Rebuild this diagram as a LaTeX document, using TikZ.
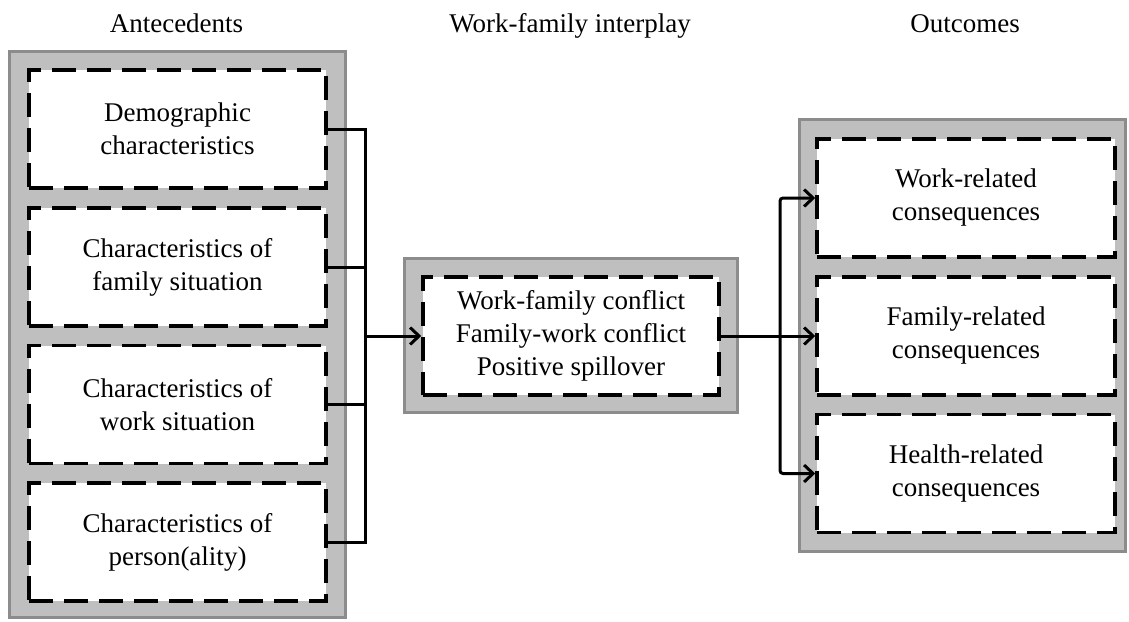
\documentclass[tikz,border=0pt]{standalone}
\usepackage{fontspec}
\setmainfont{Liberation Serif}
\usetikzlibrary{arrows.meta}
\definecolor{panelfill}{RGB}{191,191,191}
\definecolor{panelrule}{RGB}{140,140,140}
\begin{document}
\begin{tikzpicture}[x=1pt,y=-1pt,
  panel/.style={draw=panelrule, line width=3pt, fill=panelfill, inner sep=0pt},
  item/.style={draw=black, fill=white, line width=3.5pt,
    dash pattern=on 24pt off 11pt, inner sep=0pt,
    minimum width=297pt, minimum height=118pt,
    align=center, font=\fontsize{27}{33}\selectfont},
  heading/.style={anchor=base, font=\fontsize{27}{33}\selectfont},
  link/.style={line width=3pt},
  arrowlink/.style={link, -{Straight Barb[length=9pt,width=17pt,line width=3pt]}}]
\useasboundingbox (0,0) rectangle (1129,621);

% column headings
\node[heading] (hA) at (176.5,32) {Antecedents};
\node[heading] (hW) at (570,32) {Work-family interplay};
\node[heading] (hO) at (965,32) {Outcomes};

% grey panels
\node[panel, minimum width=336pt, minimum height=566pt] (PL) at (177.5,334.5) {};
\node[panel, minimum width=333pt, minimum height=154pt] (PM) at (571,335.5) {};
\node[panel, minimum width=326pt, minimum height=432pt] (PR) at (962.5,335.5) {};

% antecedents
\node[item] (L1) at (177.5,129) {Demographic\\characteristics};
\node[item] (L2) at (177.5,267) {Characteristics of\\family situation};
\node[item] (L3) at (177.5,404.5) {Characteristics of\\work situation};
\node[item] (L4) at (177.5,542) {Characteristics of\\person(ality)};

% work-family interplay
\node[item, minimum width=296pt] (M) at (571,336) {Work-family conflict\\Family-work conflict\\Positive spillover};

% outcomes
\node[item, minimum width=298pt] (R1) at (966,198) {Work-related\\consequences};
\node[item, minimum width=298pt] (R2) at (966,336) {Family-related\\consequences};
\node[item, minimum width=298pt] (R3) at (966,473.5) {Health-related\\consequences};

% collector bus on the left and distributor bus on the right
\coordinate (busL) at (365,336);
\coordinate (busR) at (780,336);

\draw[link] (L1.east) -- (L1.east -| busL) -- (L4.east -| busL) -- (L4.east);
\draw[link] (L2.east) -- (L2.east -| busL);
\draw[link] (L3.east) -- (L3.east -| busL);
\draw[arrowlink] (busL) -- (M.west);

\draw[arrowlink] (M.east) -- (R2.west);
\draw[arrowlink, rounded corners=3pt] (busR) |- (R1.west);
\draw[arrowlink, rounded corners=3pt] (busR) |- (R3.west);
\end{tikzpicture}
\end{document}
